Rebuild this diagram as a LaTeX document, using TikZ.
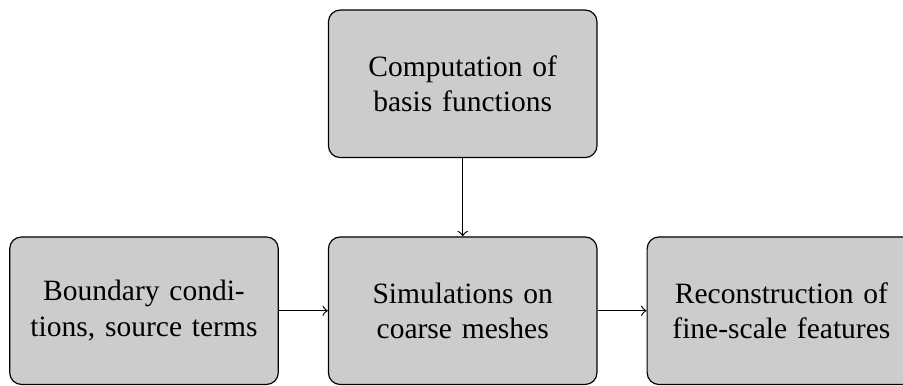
\documentclass[tikz,border=0pt]{standalone}
\usepackage{fontspec}
\setmainfont{Liberation Serif}
\usetikzlibrary{positioning}

\begin{document}
\begin{tikzpicture}[>=to, node distance=26.5pt and 16.6pt,
    stage/.style={draw, rounded corners=4pt, fill=gray!40, minimum width=91pt,
      minimum height=50pt, text width=78pt, align=center}]
    % Fix the frame; the right box runs off the edge
    \useasboundingbox (-156.8pt,-25.2pt) rectangle (149.2pt,105.3pt);
    \clip (-156.8pt,-25.2pt) rectangle (149.2pt,105.3pt);

    % --- STAGES ---
    \node[stage] (Coarse) at (0,0) {Simulations on coarse meshes};
    \node[stage, above=of Coarse] (Basis) {Computation of basis functions};
    \node[stage, left=of Coarse] (Boundary) {Boundary condi-\\tions, source terms};
    \node[stage, right=of Coarse] (Recon) {Reconstruction of fine-scale features};

    % --- ARROWS ---
    \draw[->] (Basis) -- (Coarse);
    \draw[->] (Boundary) -- (Coarse);
    \draw[->] (Coarse) -- (Recon);
\end{tikzpicture}
\end{document}
